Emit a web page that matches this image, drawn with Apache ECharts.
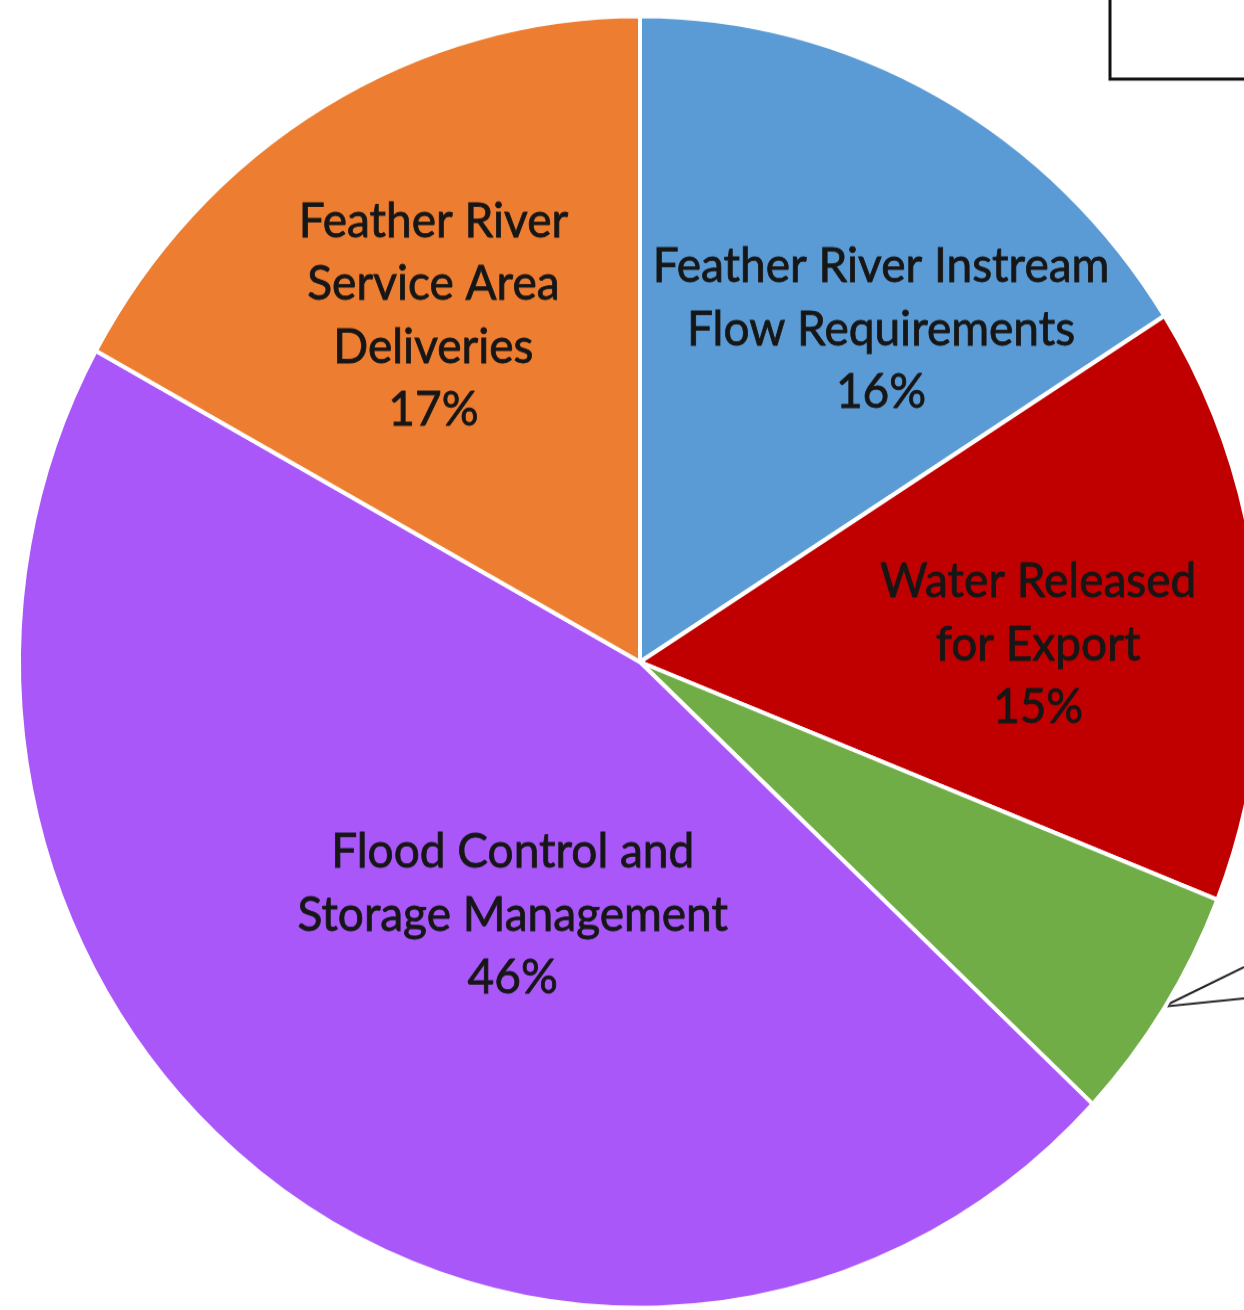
<!DOCTYPE html>
<html><head><meta charset="utf-8">
<script src="https://cdn.jsdelivr.net/npm/echarts@6/dist/echarts.min.js"></script>
<style>html,body{margin:0;padding:0;background:#fff}#c{width:1244px;height:1310px;transform:scale(1,1.04);transform-origin:0 0}</style>
</head><body><div id="c"></div>
<script>
const categories = [
  'Feather River Instream\nFlow Requirements',
  'Water Released\nfor Export',
  'Other',
  'Flood Control and\nStorage Management',
  'Feather River\nService Area\nDeliveries'
];
const values = [16, 15, 6, 46, 17];
const colors = ['#5B9BD5', '#C00000', '#70AD47', '#AA57FA', '#ED7D31'];
const labelOffsets = [[90, -45], [86, 13], [0, 0], [57, -10], [-47, -63]];
const showLabel = [true, true, false, true, true];

const chart = echarts.init(document.getElementById('c'));
chart.setOption({
  animation: false,
  backgroundColor: '#fff',
  series: [{
    type: 'pie',
    center: [640, 636.5],
    radius: 621,
    startAngle: 90,
    clockwise: true,
    avoidLabelOverlap: false,
    itemStyle: { borderColor: '#fff', borderWidth: 4 },
    label: {
      show: true,
      position: 'inside',
      formatter: '{b}\n{d}%',
      fontFamily: 'Lato',
      fontSize: 46,
      lineHeight: 60.5,
      color: '#161616',
      textBorderColor: '#161616',
      textBorderWidth: 0.8,
      align: 'center'
    },
    labelLine: { show: false },
    data: categories.map((n, i) => ({
      name: n,
      value: values[i],
      itemStyle: { color: colors[i] },
      label: { show: showLabel[i], offset: labelOffsets[i] }
    }))
  }],
  graphic: [
    { type: 'rect', shape: { x: 1110, y: -10, width: 200, height: 86 },
      style: { fill: '#fff', stroke: '#111', lineWidth: 3 } },
    { type: 'polyline', shape: { points: [[1244, 930], [1163, 968], [1244, 960]] },
      style: { fill: null, stroke: '#222', lineWidth: 2 } }
  ]
});
</script></body></html>
